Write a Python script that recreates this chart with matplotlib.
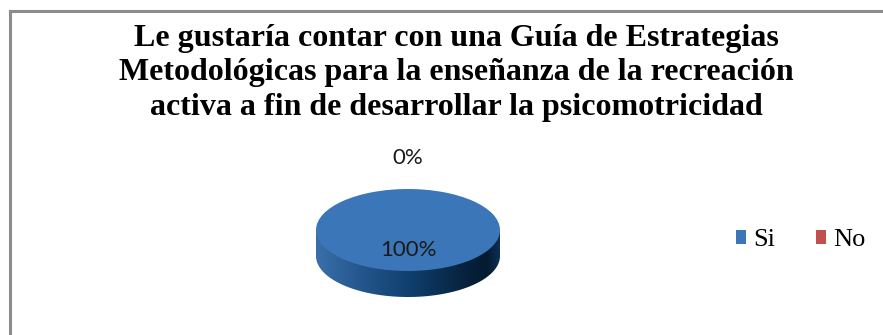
import numpy as np
import matplotlib
matplotlib.use("Agg")
import matplotlib.pyplot as plt
from matplotlib.patches import Patch, Polygon
from matplotlib.colors import LinearSegmentedColormap

# ---- data ----
categories = ["Si", "No"]
values = [100, 0]
pct_labels = ["100%", "0%"]
colors = ["#3B76B8", "#C0504D"]
title_lines = ["Le gustaría contar con una Guía de Estrategias",
               "Metodológicas para la enseñanza de la recreación",
               "activa a fin de desarrollar la psicomotricidad"]

W, H = 883, 335
fig = plt.figure(figsize=(W / 100, H / 100), dpi=100)
fig.patch.set_facecolor("white")

# frame (top and left border only visible)
fig.add_artist(plt.Line2D([10 / W, 1.0], [1 - 11 / H, 1 - 11 / H], color="#8C8C8C", lw=2.2))
fig.add_artist(plt.Line2D([10 / W, 10 / W], [0, 1 - 11 / H], color="#8C8C8C", lw=2.2))

# title
ys = [46, 80, 115]
for line, yb in zip(title_lines, ys):
    fig.text(0.5 * (135 + 778) / W, 1 - yb / H, line, ha="center", va="baseline",
             fontsize=23, fontweight="bold", family="Liberation Serif", color="black")

# pie axes: data x -1..1 -> 316..500 px ; y unit = 41 px ; centre at y=230 px
px_x = 92.0
px_y = 41.0
cx, cy = 408, 230
ax_l, ax_r, ax_t, ax_b = 296, 520, 140, 315
ax = fig.add_axes([ax_l / W, 1 - ax_b / H, (ax_r - ax_l) / W, (ax_b - ax_t) / H])

depth = 26 / px_y
# side of the cylinder with horizontal gradient
th = np.linspace(np.pi, 2 * np.pi, 200)
pts = np.column_stack([np.cos(th), np.sin(th) - depth])
pts = np.vstack([[-1, 0], pts, [1, 0]])
side = Polygon(pts, closed=True, facecolor="none", edgecolor="none")
ax.add_patch(side)
cmap = LinearSegmentedColormap.from_list("side", [
    (0.0, "#3A6FAA"), (0.25, "#24568C"), (0.5, "#10406F"),
    (0.8, "#07233F"), (0.93, "#041A30"), (1.0, "#0E3050")])
grad = np.linspace(0, 1, 256).reshape(1, -1)
im = ax.imshow(grad, extent=[-1, 1, -1 - depth, 0], aspect="auto", cmap=cmap,
               zorder=1, interpolation="bilinear")
im.set_clip_path(side)

# top surface: pie squashed via non-equal axis scaling
wedges, _ = ax.pie(values, colors=colors, startangle=90, counterclock=False,
                   radius=1, center=(0, 0), frame=True,
                   wedgeprops=dict(linewidth=0))
for w in wedges:
    w.set_zorder(2)
ax.set_xlim((ax_l - cx) / px_x, (ax_r - cx) / px_x)
ax.set_ylim((cy - ax_b) / px_y, (cy - ax_t) / px_y)
ax.set_aspect("auto")
ax.axis("off")

# percentage labels
ax.text(0, (cy - 250) / px_y, pct_labels[0], ha="center", va="center",
        fontsize=16, family="Lato", color="#1A1A1A", zorder=3)
ax.text(0, (cy - 158) / px_y, pct_labels[1], ha="center", va="center",
        fontsize=16, family="Lato", color="#1A1A1A", zorder=3)

handles = [Patch(facecolor=c, edgecolor="none", label=l) for c, l in zip(colors, categories)]
leg = fig.legend(handles=handles, loc="center left", bbox_to_anchor=(712 / W, 1 - 240 / H),
                 ncol=2, frameon=False, prop=dict(family="Liberation Serif", size=19),
                 handlelength=0.4, handleheight=0.45, handletextpad=0.25, columnspacing=1.55)

fig.savefig("out.png", dpi=100)
